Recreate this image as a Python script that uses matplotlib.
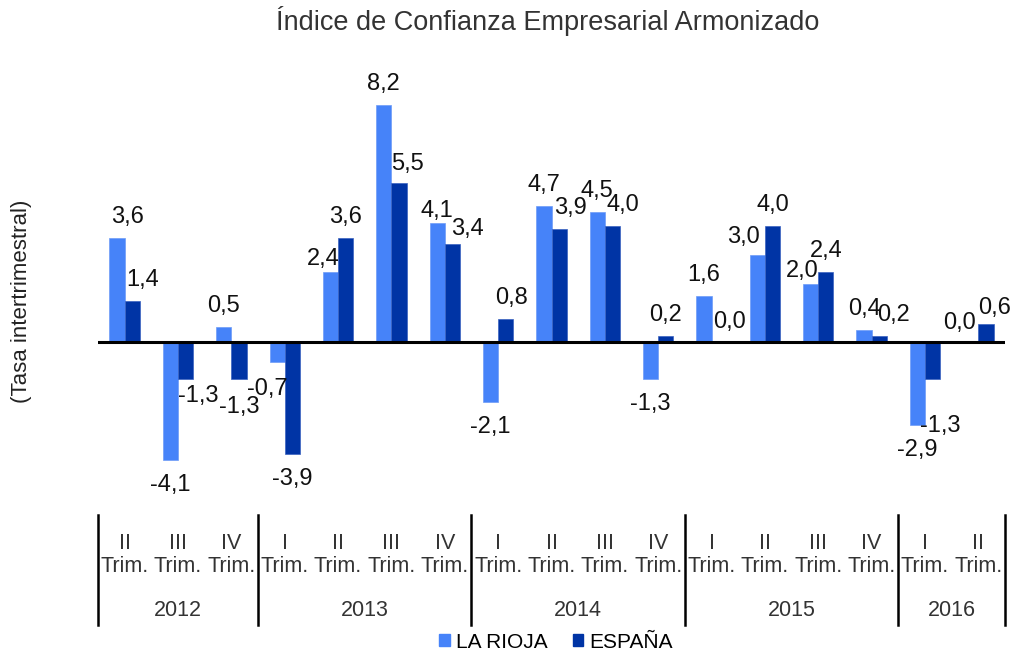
import matplotlib
matplotlib.use('Agg')
import matplotlib.pyplot as plt
import matplotlib.transforms as mtransforms
from matplotlib.patches import Patch

plt.rcParams['font.family'] = ['Liberation Sans', 'DejaVu Sans']

# data
quarters = ['II', 'III', 'IV', 'I', 'II', 'III', 'IV', 'I', 'II', 'III', 'IV',
            'I', 'II', 'III', 'IV', 'I', 'II']
years = ['2012', '2013', '2014', '2015', '2016']
year_sizes = [3, 4, 4, 4, 2]
la_rioja = [3.6, -4.1, 0.5, -0.7, 2.4, 8.2, 4.1, -2.1, 4.7, 4.5, -1.3,
            1.6, 3.0, 2.0, 0.4, -2.9, 0.0]
espana = [1.4, -1.3, -1.3, -3.9, 3.6, 5.5, 3.4, 0.8, 3.9, 4.0, 0.2,
          0.0, 4.0, 2.4, 0.2, -1.3, 0.6]

# label nudges in pixels (dx, dy), the original has hand-moved labels
rioja_nudge = {0: (10, 0), 3: (-10, -2), 4: (-7, -8), 6: (0, -9), 12: (-14, -3),
               13: (-8, -8), 16: (-11, -2)}
espana_nudge = {0: (10, 0), 1: (13, 8), 2: (0, -3), 5: (8, -2), 6: (15, -6), 7: (6, 0),
                8: (11, 0), 9: (10, 0), 11: (10, -1), 14: (14, 0), 15: (8, -22),
                16: (9, -5)}

light = '#4683F9'
dark = '#0034A5'

fig = plt.figure(figsize=(10.13, 6.52), dpi=100)
ax = fig.add_axes([98 / 1013, 1 - 515 / 652, 907 / 1013, 462 / 652])

x = list(range(len(quarters)))
w = 0.285
ax.bar([i - w / 2 for i in x], la_rioja, w, color=light, edgecolor='#6d9cf7', linewidth=0.5)
ax.bar([i + w / 2 for i in x], espana, w, color=dark, edgecolor='#3a62c0', linewidth=0.5)

ax.set_xlim(-0.5, len(quarters) - 0.5)
ax.set_ylim(-6, 10)
ax.axhline(0, color='black', lw=2.2)
for s in ax.spines.values():
    s.set_visible(False)
ax.set_xticks([])
ax.set_yticks([])


def fmt(v):
    return f'{v:.1f}'.replace('.', ',')


def add_labels(vals, offset, nudge):
    for i, v in enumerate(vals):
        dx, dy = nudge.get(i, (0, 0))
        if v >= 0:
            ax.annotate(fmt(v), (i + offset, v), xytext=(dx, 15 + dy),
                        textcoords='offset pixels', ha='center', va='baseline',
                        fontsize=17, color='#111111', annotation_clip=False)
        else:
            ax.annotate(fmt(v), (i + offset, v), xytext=(dx, -14 + dy),
                        textcoords='offset pixels', ha='center', va='top',
                        fontsize=17, color='#111111', annotation_clip=False)


add_labels(la_rioja, -w / 2, rioja_nudge)
add_labels(espana, w / 2, espana_nudge)

# category axis: quarters, then years with separators
trans = mtransforms.blended_transform_factory(ax.transData, ax.transAxes)
for i, q in enumerate(quarters):
    ax.text(i, -0.062, q, transform=trans, ha='center', va='center',
            fontsize=15.5, color='#333333')
    ax.text(i, -0.112, 'Trim.', transform=trans, ha='center', va='center',
            fontsize=15.5, color='#333333')

start = 0
bounds = [-0.5]
for yr, n in zip(years, year_sizes):
    ax.text(start + (n - 1) / 2, -0.206, yr, transform=trans, ha='center',
            va='center', fontsize=15.5, color='#333333')
    start += n
    bounds.append(start - 0.5)
for b in bounds:
    ax.plot([b, b], [0, -0.238], transform=trans, color='black', lw=1.8,
            clip_on=False)

fig.text(548 / 1013, 1 - 21 / 652, 'Índice de Confianza Empresarial Armonizado',
         ha='center', va='center', fontsize=19.5, color='#333333')
fig.text(22 / 1013, 1 - 301 / 652, '(Tasa intertrimestral)', rotation=90,
         ha='center', va='center', fontsize=16, color='#222222')

handles = [Patch(color=light), Patch(color=dark)]
fig.legend(handles, ['LA RIOJA', 'ESPAÑA'], loc='center',
           bbox_to_anchor=(556 / 1013, 1 - 642 / 652), ncol=2, frameon=False,
           fontsize=15, handlelength=0.5, handleheight=0.5,
           handletextpad=0.3, columnspacing=1.2, borderpad=0)

fig.savefig('out.png', dpi=100)
